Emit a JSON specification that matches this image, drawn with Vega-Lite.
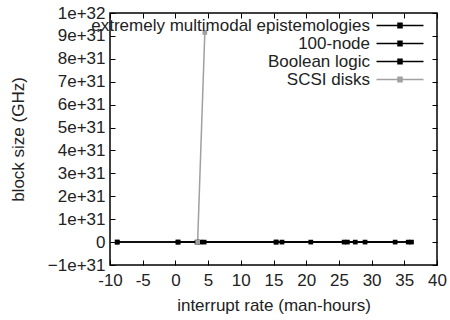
{
  "$schema": "https://vega.github.io/schema/vega-lite/v6.json",
  "autosize": {"type": "none"},
  "padding": {"left": 110, "top": 13, "right": 13, "bottom": 55},
  "width": 327,
  "height": 252,
  "background": "white",
  "config": {
    "font": "Liberation Sans",
    "view": {"stroke": "black", "strokeWidth": 1.5},
    "axis": {
      "grid": false,
      "domain": false,
      "tickColor": "black",
      "tickSize": -5,
      "tickWidth": 1,
      "labelFont": "Liberation Sans",
      "labelFontSize": 17,
      "labelColor": "#222",
      "titleFont": "Liberation Sans",
      "titleFontSize": 17,
      "titleFontWeight": "normal",
      "titleColor": "#222"
    }
  },
  "resolve": {"axis": {"x": "independent", "y": "independent"}},
  "data": {
    "values": [
      {"x": -8.9, "y": 0, "s": "extremely multimodal epistemologies"},
      {"x": 0.4, "y": 0, "s": "extremely multimodal epistemologies"},
      {"x": 3.8, "y": 0, "s": "extremely multimodal epistemologies"},
      {"x": 15.4, "y": 0, "s": "extremely multimodal epistemologies"},
      {"x": 20.7, "y": 0, "s": "extremely multimodal epistemologies"},
      {"x": 25.8, "y": 0, "s": "extremely multimodal epistemologies"},
      {"x": 33.6, "y": 0, "s": "extremely multimodal epistemologies"},
      {"x": -8.9, "y": 0, "s": "100-node"},
      {"x": 3.3, "y": 0, "s": "100-node"},
      {"x": 16.3, "y": 0, "s": "100-node"},
      {"x": 26.3, "y": 0, "s": "100-node"},
      {"x": 29.0, "y": 0, "s": "100-node"},
      {"x": 35.6, "y": 0, "s": "100-node"},
      {"x": 0.4, "y": 0, "s": "Boolean logic"},
      {"x": 4.4, "y": 0, "s": "Boolean logic"},
      {"x": 15.4, "y": 0, "s": "Boolean logic"},
      {"x": 27.5, "y": 0, "s": "Boolean logic"},
      {"x": 36.1, "y": 0, "s": "Boolean logic"},
      {"x": 3.4, "y": 0, "s": "SCSI disks"},
      {"x": 4.5, "y": 9.15e31, "s": "SCSI disks"}
    ]
  },
  "layer": [
    {
      "mark": {"type": "line", "strokeWidth": 1.5},
      "encoding": {
        "x": {
          "field": "x", "type": "quantitative",
          "scale": {"domain": [-10, 40], "nice": false, "zero": false},
          "axis": {
            "orient": "bottom",
            "values": [-10, -5, 0, 5, 10, 15, 20, 25, 30, 35, 40],
            "labelExpr": "datum.value < 0 ? '-' + format(-datum.value, 'd') : format(datum.value, 'd')",
            "title": "interrupt rate (man-hours)",
            "labelPadding": 12,
            "titlePadding": 9,
            "labelFlush": false
          }
        },
        "y": {
          "field": "y", "type": "quantitative",
          "scale": {"domain": [-1e31, 1e32], "nice": false, "zero": false},
          "axis": {
            "orient": "left",
            "values": [-1e31, 0, 1e31, 2e31, 3e31, 4e31, 5e31, 6e31, 7e31, 8e31, 9e31, 1e32],
            "labelExpr": "datum.value == 0 ? '0' : (datum.value >= 9.5e31 ? '1e+32' : format(round(datum.value / 1e31), 'd') + 'e+31')",
            "title": "block size (GHz)",
            "labelPadding": 10,
            "titlePadding": 20,
            "labelFlush": false
          }
        },
        "color": {
          "field": "s", "type": "nominal",
          "scale": {
            "domain": ["extremely multimodal epistemologies", "100-node", "Boolean logic", "SCSI disks"],
            "range": ["black", "black", "black", "#a0a0a0"]
          },
          "legend": {
            "title": null,
            "orient": "none",
            "legendX": 258,
            "legendY": 4,
            "symbolType": "M0,0H9.4M4.3,-0.45H5.1V0.45H4.3Z",
            "symbolSize": 100,
            "symbolStrokeWidth": 1.5,
            "labelAlign": "right",
            "labelOffset": -15,
            "labelFont": "Liberation Sans",
            "labelFontSize": 17,
            "labelColor": "#222",
            "labelLimit": 400,
            "rowPadding": 0,
            "padding": 0
          }
        },
        "detail": {"field": "s"}
      }
    },
    {
      "mark": {"type": "point", "shape": "square", "filled": true, "size": 22, "opacity": 1},
      "encoding": {
        "x": {"field": "x", "type": "quantitative", "axis": null},
        "y": {"field": "y", "type": "quantitative", "axis": null},
        "color": {"field": "s", "type": "nominal"}
      }
    },
    {
      "mark": {"type": "point", "opacity": 0},
      "encoding": {
        "x": {"field": "x", "type": "quantitative", "axis": {"orient": "top", "labels": false, "title": null, "values": [-10, -5, 0, 5, 10, 15, 20, 25, 30, 35, 40]}},
        "y": {"field": "y", "type": "quantitative", "axis": {"orient": "right", "labels": false, "title": null, "values": [-1e31, 0, 1e31, 2e31, 3e31, 4e31, 5e31, 6e31, 7e31, 8e31, 9e31, 1e32]}}
      }
    }
  ]
}
